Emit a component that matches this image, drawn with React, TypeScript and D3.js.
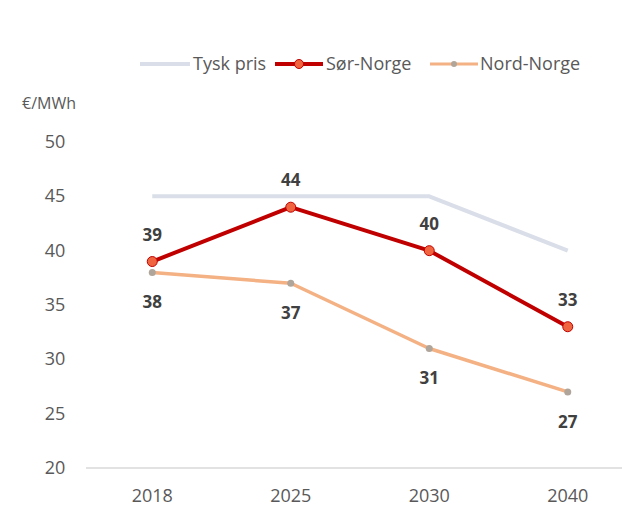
import React from "react";
import * as d3 from "d3";

const categories = ["2018", "2025", "2030", "2040"];
const tyskPris = [45, 45, 45, 40];
const sorNorge = [39, 44, 40, 33];
const nordNorge = [38, 37, 31, 27];
const yTicks = [20, 25, 30, 35, 40, 45, 50];

const W = 627;
const H = 511;
const FONT = "'Open Sans', 'Noto Sans', sans-serif";

export default function App() {
  const x = d3.scaleBand<string>().domain(categories).range([83, 637]);
  const cx = (c: string) => (x(c) as number) + x.bandwidth() / 2;
  const y = d3.scaleLinear().domain([20, 50]).range([468, 142]);

  const line = d3
    .line<number>()
    .x((_, i) => cx(categories[i]))
    .y((d) => y(d));

  return (
    <svg
      width={W}
      height={H}
      style={{ position: "absolute", left: 0, top: 0, background: "#fff" }}
      fontFamily={FONT}
    >
      {/* legend */}
      <g>
        <line x1={140} x2={190} y1={64} y2={64} stroke="#d9dee8" strokeWidth={4} />
        <text x={193} y={70} fontSize={18} fill="#595959">Tysk pris</text>
        <line x1={275} x2={323} y1={64} y2={64} stroke="#c00000" strokeWidth={4} />
        <circle cx={299} cy={64} r={4.5} fill="#f0653f" stroke="#c00000" strokeWidth={1} />
        <text x={326} y={70} fontSize={18} fill="#595959">Sør-Norge</text>
        <line x1={430} x2={478} y1={64} y2={64} stroke="#f4b183" strokeWidth={3} />
        <circle cx={454} cy={64} r={3} fill="#b0a59a" />
        <text x={480} y={70} fontSize={18} fill="#595959">Nord-Norge</text>
      </g>

      {/* y axis title */}
      <text x={22} y={109} fontSize={16} fill="#595959">€/MWh</text>

      {/* y ticks */}
      {yTicks.map((t) => (
        <text key={t} x={55} y={y(t) + 6} fontSize={18} fill="#595959" textAnchor="middle">
          {t}
        </text>
      ))}

      {/* x axis line */}
      <line x1={86} x2={622} y1={y(20)} y2={y(20)} stroke="#d9d9d9" strokeWidth={1.5} />
      {categories.map((c) => (
        <text key={c} x={cx(c)} y={502} fontSize={18} fill="#595959" textAnchor="middle">
          {c}
        </text>
      ))}

      {/* Tysk pris */}
      <path d={line(tyskPris) || ""} fill="none" stroke="#d9dee8" strokeWidth={4} strokeLinejoin="round" />

      {/* Nord-Norge */}
      <path d={line(nordNorge) || ""} fill="none" stroke="#f4b183" strokeWidth={3.5} strokeLinejoin="round" />
      {nordNorge.map((v, i) => (
        <circle key={i} cx={cx(categories[i])} cy={y(v)} r={3.5} fill="#b0a59a" />
      ))}

      {/* Sør-Norge */}
      <path d={line(sorNorge) || ""} fill="none" stroke="#c00000" strokeWidth={4} strokeLinejoin="round" />
      {sorNorge.map((v, i) => (
        <circle key={i} cx={cx(categories[i])} cy={y(v)} r={5} fill="#f0653f" stroke="#c00000" strokeWidth={1} />
      ))}

      {/* labels */}
      {sorNorge.map((v, i) => (
        <text key={i} x={cx(categories[i])} y={y(v) - 21} fontSize={17} fontWeight="bold" fill="#404040" textAnchor="middle">
          {v}
        </text>
      ))}
      {nordNorge.map((v, i) => (
        <text key={i} x={cx(categories[i])} y={y(v) + 36} fontSize={17} fontWeight="bold" fill="#404040" textAnchor="middle">
          {v}
        </text>
      ))}
    </svg>
  );
}
